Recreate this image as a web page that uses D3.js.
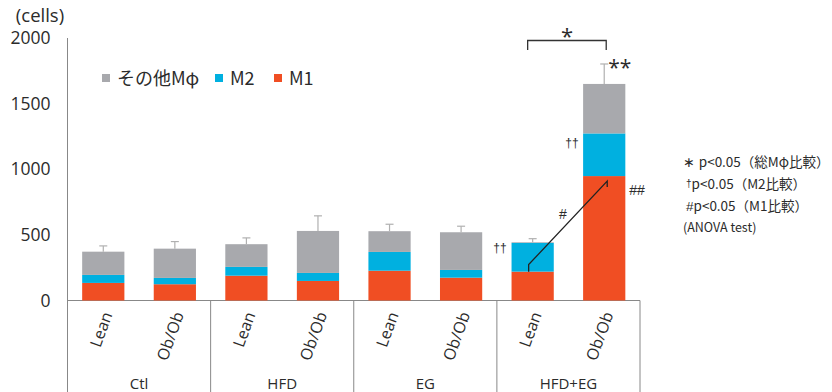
<!DOCTYPE html>
<html>
<head>
<meta charset="utf-8">
<script src="https://cdn.jsdelivr.net/npm/d3@7"></script>
<style>
  html, body { margin: 0; padding: 0; background: #fff; }
  svg { display: block; }
  text { font-family: "Noto Sans CJK JP", "Open Sans", sans-serif; fill: #2b2b2b; }
</style>
</head>
<body>
<svg id="chart" width="832" height="392"></svg>
<script>
// Macrophage counts per group, stacked M1 / M2 / other
const groups = ["Ctl", "HFD", "EG", "HFD+EG"];
const strains = ["Lean", "Ob/Ob"];
const m1 = [134, 124, 189, 149, 227, 174, 220, 948];
const m2 = [61, 48, 67, 61, 143, 59, 219, 325];
const other = [177, 223, 173, 320, 158, 287, 5, 377];
const sd = [44, 54, 48, 115, 53, 46, 27, 152];
const yTicks = [0, 500, 1000, 1500, 2000];

const seriesKeys = ["m1", "m2", "other"];
const seriesNames = { other: "その他Mφ", m2: "M2", m1: "M1" };
const colors = { m1: "#f04e23", m2: "#00b0e0", other: "#a8a9ad" };

const rows = [];
groups.forEach((g, gi) => strains.forEach((s, si) => {
  const i = gi * 2 + si;
  rows.push({ key: g + "|" + s, group: g, strain: s, m1: m1[i], m2: m2[i], other: other[i], sd: sd[i] });
}));

const latin = "'Open Sans', sans-serif";
const markFont = "'Liberation Sans', sans-serif";
const svg = d3.select("#chart");
const x0 = 67.5, x1 = 640, yBottom = 392;

const y = d3.scaleLinear().domain([0, 2000]).range([300.5, 38]);
const x = d3.scaleBand().domain(rows.map(d => d.key)).range([x0, x1])
  .paddingInner(0.41).paddingOuter(0.205);
const xg = d3.scaleBand().domain(groups).range([x0, x1]).padding(0);

// y axis
const yAxis = svg.append("g").attr("transform", `translate(${x0},0)`)
  .call(d3.axisLeft(y).tickValues(yTicks).tickSize(0).tickPadding(17).tickFormat(d3.format("d")));
yAxis.select(".domain").remove();
yAxis.selectAll("text").style("font-family", latin).style("font-size", "17.5px").attr("fill", "#2b2b2b");

svg.append("text").attr("x", 40).attr("y", 22).attr("text-anchor", "middle")
  .style("font-family", latin).style("font-size", "18.5px").text("(cells)");

// axis lines and group separators
svg.append("line").attr("x1", x0).attr("x2", x0).attr("y1", y(2000)).attr("y2", yBottom)
  .attr("stroke", "#888").attr("stroke-width", 1);
svg.append("line").attr("x1", x0).attr("x2", x1).attr("y1", y(0)).attr("y2", y(0))
  .attr("stroke", "#888").attr("stroke-width", 1);
groups.forEach(g => {
  const xr = xg(g) + xg.bandwidth();
  svg.append("line").attr("x1", xr).attr("x2", xr).attr("y1", y(0)).attr("y2", yBottom)
    .attr("stroke", "#888").attr("stroke-width", 1);
});

// stacked bars
const stacked = d3.stack().keys(seriesKeys)(rows);
svg.append("g").selectAll("g").data(stacked).join("g")
  .attr("fill", s => colors[s.key])
  .selectAll("rect").data(s => s).join("rect")
  .attr("x", d => x(d.data.key))
  .attr("width", x.bandwidth())
  .attr("y", d => y(d[1]))
  .attr("height", d => y(d[0]) - y(d[1]));

// error bars (upper only)
const errG = svg.append("g").attr("stroke", "#b0b0b0").attr("stroke-width", 1.2);
rows.forEach(d => {
  const cx = x(d.key) + x.bandwidth() / 2;
  const total = d.m1 + d.m2 + d.other;
  errG.append("line").attr("x1", cx).attr("x2", cx).attr("y1", y(total)).attr("y2", y(total + d.sd));
  errG.append("line").attr("x1", cx - 4).attr("x2", cx + 4).attr("y1", y(total + d.sd)).attr("y2", y(total + d.sd));
});

// x labels (strain, rotated) and group labels
rows.forEach(d => {
  const cx = x(d.key) + x.bandwidth() / 2;
  svg.append("text")
    .attr("transform", `translate(${cx + 4},${y(0) + 12}) rotate(-70)`)
    .attr("text-anchor", "end").attr("dy", "0.35em")
    .style("font-family", latin).style("font-size", "16px")
    .text(d.strain);
});
groups.forEach(g => {
  svg.append("text").attr("x", xg(g) + xg.bandwidth() / 2).attr("y", 389)
    .attr("text-anchor", "middle")
    .style("font-family", latin).style("font-size", "15px")
    .text(g);
});

// legend
const legendItems = ["other", "m2", "m1"];
const legendX = [102, 215, 274];
legendItems.forEach((k, i) => {
  svg.append("rect").attr("x", legendX[i]).attr("y", 74).attr("width", 8).attr("height", 8).attr("fill", colors[k]);
  svg.append("text").attr("x", legendX[i] + 15).attr("y", 85)
    .style("font-size", "18px").text(seriesNames[k]);
});

// significance marks
const iLean = 6, iOb = 7;
const cLean = x(rows[iLean].key) + x.bandwidth() / 2;
const cOb = x(rows[iOb].key) + x.bandwidth() / 2;
const totOb = m1[iOb] + m2[iOb] + other[iOb];

// bracket for total comparison
const bx1 = cLean - 5, bx2 = cOb + 2, bTop = 40.5, bFoot = 50;
svg.append("path")
  .attr("d", `M${bx1},${bFoot}V${bTop}H${bx2}V${bFoot}`)
  .attr("fill", "none").attr("stroke", "#333").attr("stroke-width", 1.3);
svg.append("text").attr("x", (bx1 + bx2) / 2).attr("y", 44).attr("text-anchor", "middle")
  .style("font-family", latin).style("font-size", "22px").text("*");
svg.append("text").attr("x", cOb + 4).attr("y", y(totOb + sd[iOb]) + 11)
  .style("font-family", latin).style("font-size", "21px").text("**");

// M1 connector line
const lx1 = cLean - 4, lx2 = cOb + 3;
svg.append("path")
  .attr("d", `M${lx1},${y(m1[iLean])}V${y(m1[iLean]) - 7}L${lx2},${y(m1[iOb]) + 5}V${y(m1[iOb]) + 11}`)
  .attr("fill", "none").attr("stroke", "#222").attr("stroke-width", 1.3);

[
  { t: "#", x: 563, y: 219, s: 14 },
  { t: "##", x: 637, y: 195, s: 14 },
  { t: "††", x: 500, y: 252, s: 12 },
  { t: "††", x: 572, y: 147, s: 12 }
].forEach(m => {
  svg.append("text").attr("x", m.x).attr("y", m.y).attr("text-anchor", "middle")
    .style("font-family", markFont).style("font-size", m.s + "px").attr("fill", "#222").text(m.t);
});

// notes
const notes = [
  { pre: "∗ ", t: "p<0.05（総Mφ比較）", x: 683, y: 167 },
  { pre: "†", t: "p<0.05（M2比較）", x: 686, y: 189 },
  { pre: "#", t: "p<0.05（M1比較）", x: 686, y: 211 }
];
notes.forEach((n, i) => {
  const t = svg.append("text").attr("x", n.x).attr("y", n.y).style("font-size", "13.5px");
  const p = t.append("tspan").style("font-family", markFont);
  if (i === 1) p.style("font-size", "10px").attr("dy", -2);
  p.text(n.pre);
  t.append("tspan").attr("dy", i === 1 ? 2 : 0).text(n.t);
});
svg.append("text").attr("x", 683).attr("y", 232).style("font-size", "12.5px").text("(ANOVA test)");
</script>
</body>
</html>
